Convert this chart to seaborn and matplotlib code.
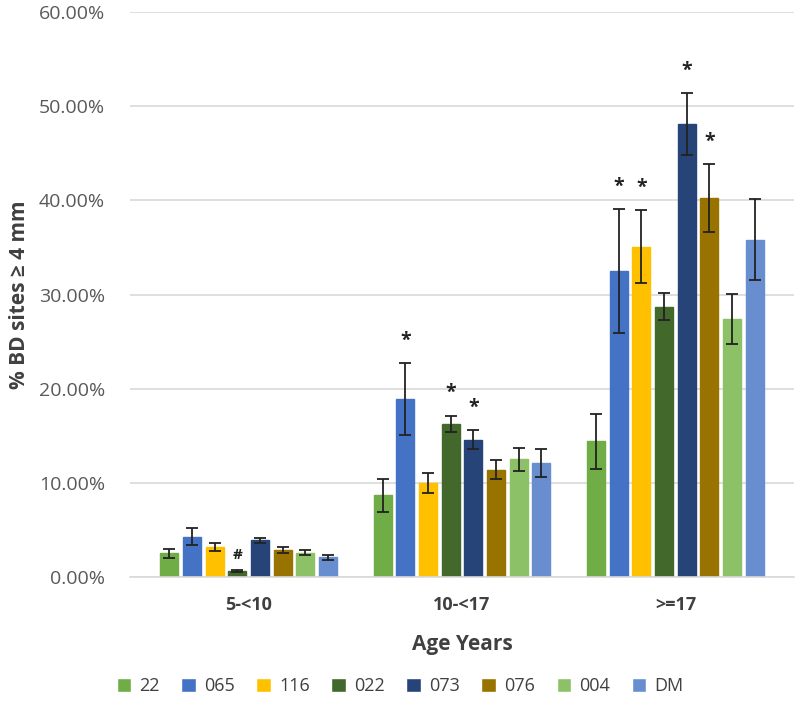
import numpy as np
import pandas as pd
import matplotlib.pyplot as plt
import seaborn as sns
from matplotlib.ticker import PercentFormatter

# data (percent)
ages = ["5-<10", "10-<17", ">=17"]
groups = ["22", "065", "116", "022", "073", "076", "004", "DM"]
vals_5_10 = [2.5, 4.3, 3.2, 0.6, 3.9, 2.9, 2.6, 2.1]
vals_10_17 = [8.7, 18.9, 10.0, 16.3, 14.6, 11.4, 12.5, 12.1]
vals_17 = [14.4, 32.5, 35.1, 28.7, 48.1, 40.3, 27.4, 35.8]
err_5_10 = [0.5, 0.9, 0.4, 0.1, 0.25, 0.3, 0.25, 0.25]
err_10_17 = [1.75, 3.8, 1.1, 0.85, 1.05, 1.0, 1.25, 1.5]
err_17 = [2.9, 6.6, 3.9, 1.45, 3.3, 3.6, 2.7, 4.3]
# significance marks: (age, group, symbol)
marks = [("5-<10", "022", "#"),
         ("10-<17", "065", "*"), ("10-<17", "022", "*"), ("10-<17", "073", "*"),
         (">=17", "065", "*"), (">=17", "116", "*"), (">=17", "073", "*"), (">=17", "076", "*")]

colors = ["#70AD47", "#4472C4", "#FFC000", "#43682B", "#264478", "#997300", "#8CC168", "#698ED0"]

rows = []
for age, v, e in zip(ages, [vals_5_10, vals_10_17, vals_17], [err_5_10, err_10_17, err_17]):
    for g, vi, ei in zip(groups, v, e):
        rows.append({"age": age, "group": g, "value": vi, "err": ei})
df = pd.DataFrame(rows)

sns.set_style("white")
plt.rcParams['font.family'] = ['Open Sans', 'DejaVu Sans']

fig = plt.figure(figsize=(8, 7.15), dpi=100)
ax = fig.add_axes([0.1625, 0.193, 0.83, 0.79])

sns.barplot(data=df, x="age", y="value", hue="group", order=ages, hue_order=groups,
            palette=colors, saturation=1, width=0.85, gap=0.2, errorbar=None, ax=ax, zorder=2)

for cont, g in zip(ax.containers, groups):
    sub = df[df["group"] == g].set_index("age").loc[ages]
    col = colors[groups.index(g)]
    for bar in cont:
        bar.set_edgecolor(col)
    xs = [b.get_x() + b.get_width() / 2 for b in cont]
    ax.errorbar(xs, sub["value"], yerr=sub["err"], fmt="none", ecolor="#222222",
                elinewidth=1.3, capsize=4, capthick=1.3, zorder=3)
    for x, (age, r) in zip(xs, sub.iterrows()):
        for ma, mg, sym in marks:
            if ma == age and mg == g:
                y = r["value"] + r["err"] + (1.3 if sym == "*" else 0.9)
                ax.text(x, y, sym, ha="center", va="bottom", fontsize=14 if sym == "*" else 11,
                        fontweight="bold", color="#222222")

ax.set_ylim(0, 60)
ax.set_yticks(np.arange(0, 61, 10))
ax.yaxis.set_major_formatter(PercentFormatter(decimals=2))
ax.grid(axis="y", color="#d9d9d9", linewidth=1.2, zorder=0)
ax.set_axisbelow(True)
sns.despine(ax=ax, left=True, top=True, right=True)
ax.spines["bottom"].set_color("#d9d9d9")
ax.spines["bottom"].set_linewidth(1.2)
ax.tick_params(axis="y", length=0, labelsize=14, labelcolor="#595959", pad=18)
ax.tick_params(axis="x", length=0, labelsize=13, pad=14)
for t in ax.get_xticklabels():
    t.set_fontweight("bold")
    t.set_color("#404040")

ax.set_xlabel("Age Years", fontsize=15, fontweight="bold", color="#404040", labelpad=14)
ax.set_ylabel("% BD sites \u2265 4 mm", fontsize=15, fontweight="bold", color="#404040", labelpad=6)

handles, labels = ax.get_legend_handles_labels()
ax.get_legend().remove()
fig.legend(handles, labels, loc="center", bbox_to_anchor=(0.5, 0.04), ncol=8, frameon=False,
           handlelength=0.8, handleheight=0.8, handletextpad=0.45, columnspacing=1.2, fontsize=13,
           labelcolor="#404040")

fig.savefig("out.png", dpi=100)
